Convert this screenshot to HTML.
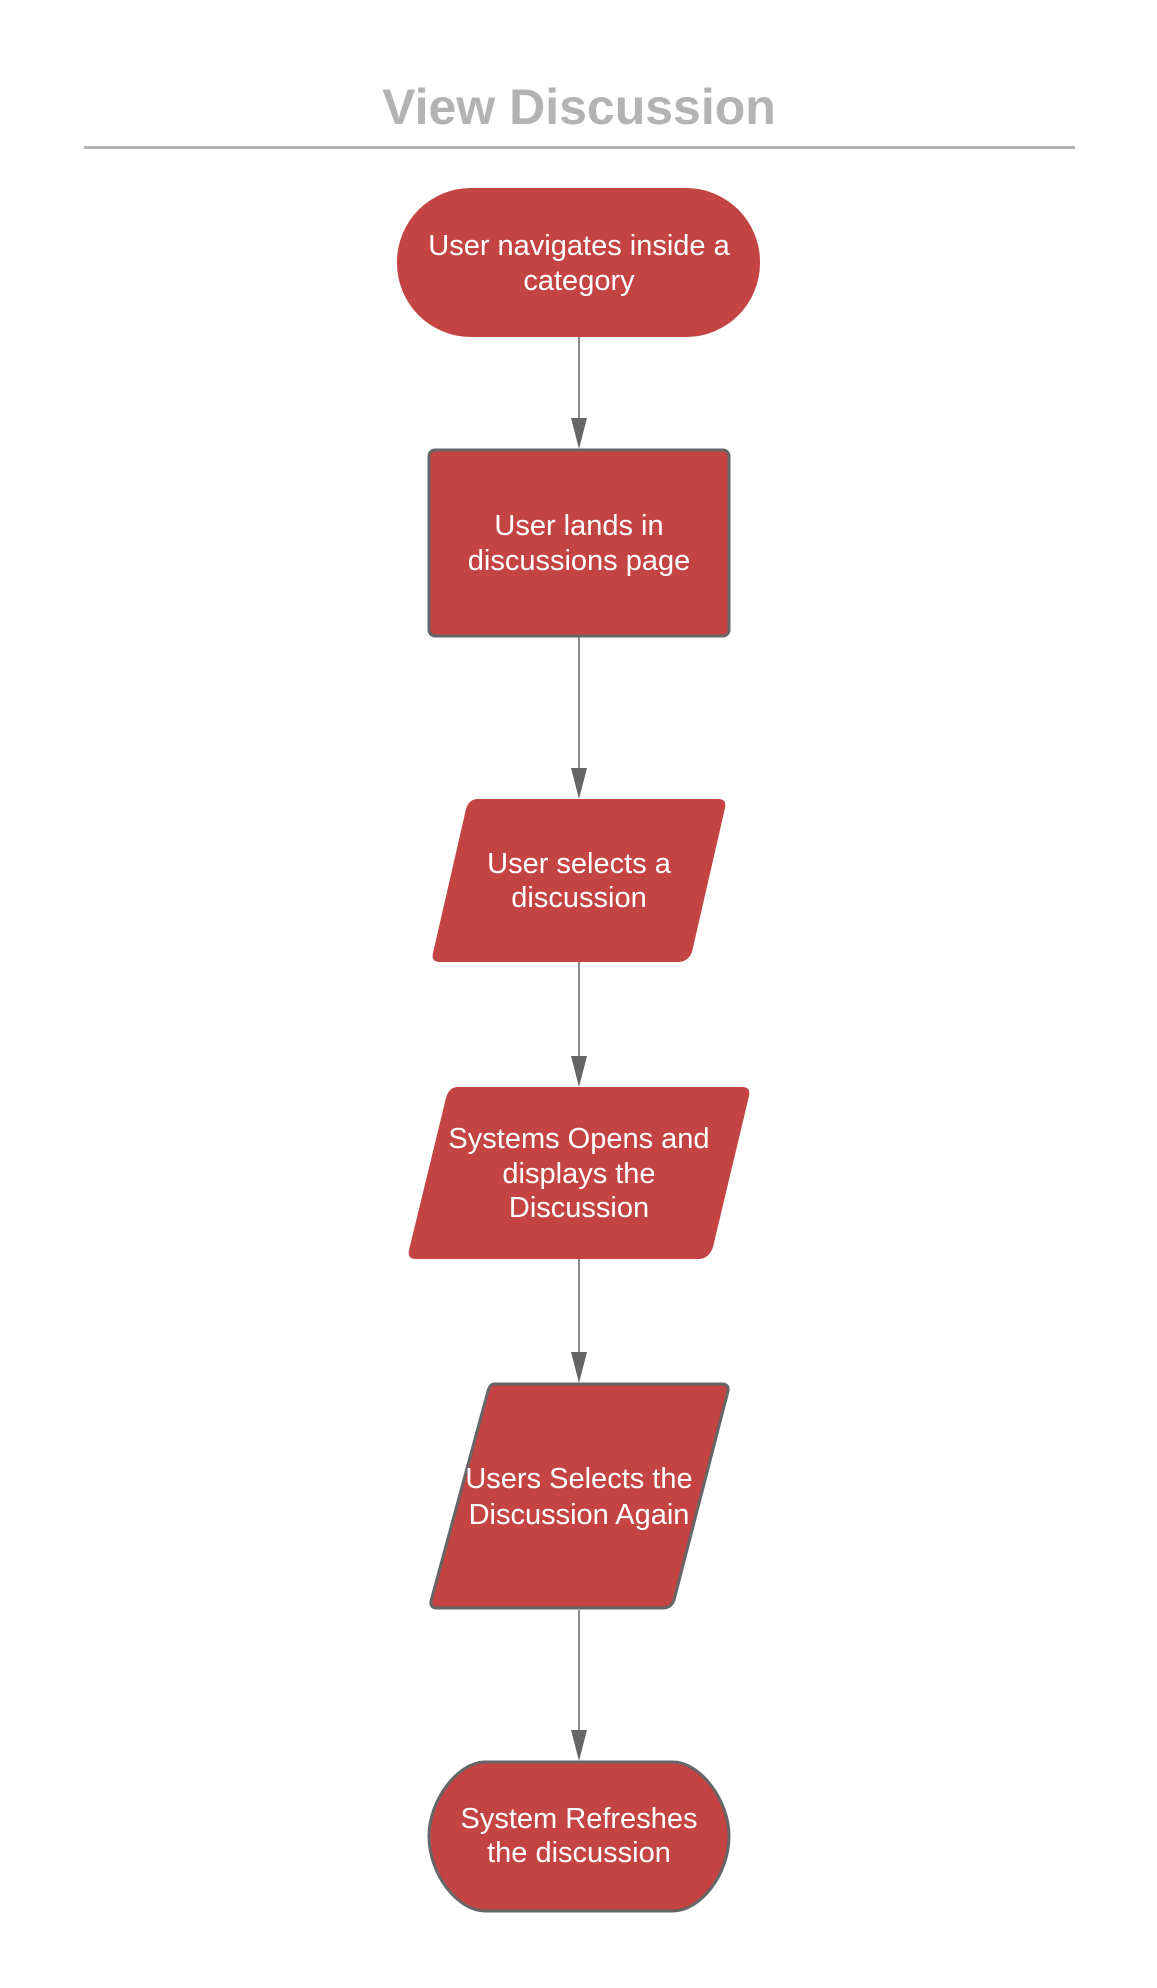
<!DOCTYPE html>
<html><head><meta charset="utf-8"><style>
html,body{margin:0;padding:0;background:#fff;}
svg{display:block;}
text{font-family:"Liberation Sans",sans-serif;}
</style></head><body>
<svg width="1157" height="1988" viewBox="0 0 1157 1988" xmlns="http://www.w3.org/2000/svg">
<rect width="1157" height="1988" fill="#fff"/>
<text x="579" y="124" text-anchor="middle" font-size="50" font-weight="bold" fill="#b3b3b3">View Discussion</text>
<line x1="84" y1="147.5" x2="1075" y2="147.5" stroke="#b3b3b3" stroke-width="3"/>

<g stroke="#666" stroke-width="1.5">
<line x1="579" y1="337" x2="579" y2="420"/>
<line x1="579" y1="637" x2="579" y2="770"/>
<line x1="579" y1="962" x2="579" y2="1058"/>
<line x1="579" y1="1259" x2="579" y2="1354"/>
<line x1="579" y1="1610" x2="579" y2="1732"/>
</g>
<g fill="#666">
<path d="M571,418 L587,418 L579,449 Z"/>
<path d="M571,768 L587,768 L579,799 Z"/>
<path d="M571,1056 L587,1056 L579,1087 Z"/>
<path d="M571,1352 L587,1352 L579,1383 Z"/>
<path d="M571,1730 L587,1730 L579,1761 Z"/>
</g>

<rect x="397" y="188" width="363" height="149" rx="74" ry="74" fill="#c44343"/>
<rect x="429" y="450" width="300" height="186" rx="6" fill="#c44343" stroke="#666" stroke-width="3"/>
<path d="M478,799 L718,799 Q727,799 725,808 L692,952 Q688,962 678,962 L440,962 Q431,962 433,953 L466,809 Q469,799 478,799 Z" fill="#c44343"/>
<path d="M458,1087 L742,1087 Q751,1087 749,1096 L713,1247 Q709,1259 698,1259 L416,1259 Q407,1259 409,1250 L446,1098 Q449,1087 458,1087 Z" fill="#c44343"/>
<path d="M494,1384 L722,1384 Q729,1384 728,1391 L674,1600 Q671,1608 663,1608 L437,1608 Q430,1608 431,1601 L488,1391 Q490,1384 494,1384 Z" fill="#c44343" stroke="#666" stroke-width="3"/>
<path d="M485,1762 L673,1762 C700,1762 729,1800 729,1836 C729,1875 700,1911 673,1911 L485,1911 C458,1911 429,1875 429,1836 C429,1800 458,1762 485,1762 Z" fill="#c44343" stroke="#666" stroke-width="3"/>

<g fill="#fff" font-size="29" text-anchor="middle">
<text x="579" y="255">User navigates inside a</text>
<text x="579" y="290">category</text>
<text x="579" y="535">User lands in</text>
<text x="579" y="570">discussions page</text>
<text x="579" y="873">User selects a</text>
<text x="579" y="907">discussion</text>
<text x="579" y="1148">Systems Opens and</text>
<text x="579" y="1183">displays the</text>
<text x="579" y="1217">Discussion</text>
<text x="579" y="1488">Users Selects the</text>
<text x="579" y="1524">Discussion Again</text>
<text x="579" y="1828">System Refreshes</text>
<text x="579" y="1862">the discussion</text>
</g>
</svg>
</body></html>
